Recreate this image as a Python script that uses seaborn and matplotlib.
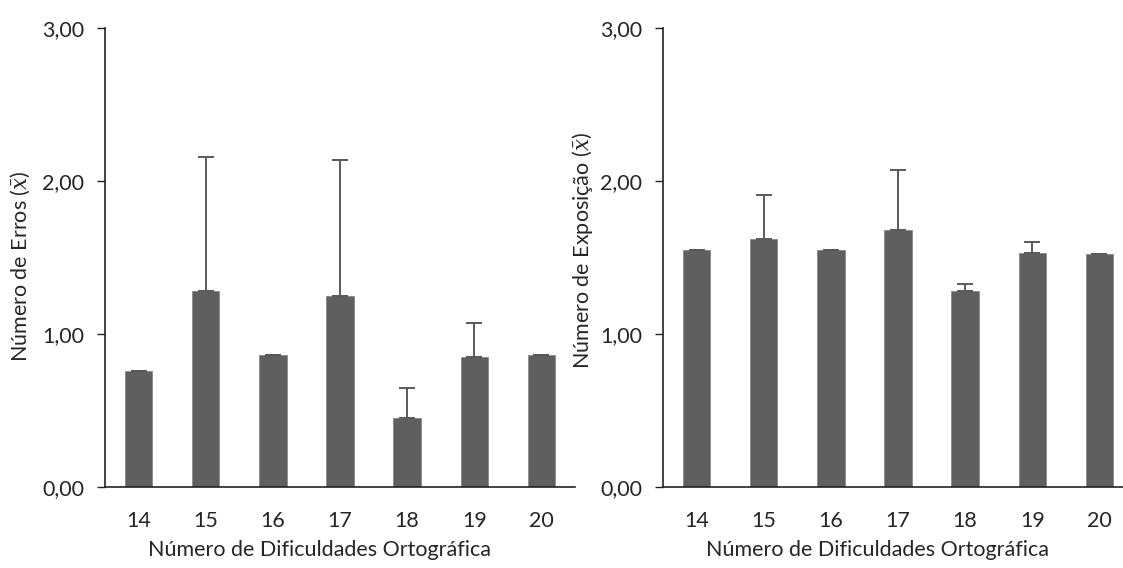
import numpy as np
import matplotlib
matplotlib.use('Agg')
import matplotlib.pyplot as plt
import seaborn as sns

# dados
dificuldades = ['14', '15', '16', '17', '18', '19', '20']
media_erros = [0.76, 1.28, 0.86, 1.25, 0.45, 0.85, 0.86]
erro_erros = [0.0, 0.88, 0.0, 0.89, 0.20, 0.22, 0.0]
media_exposicao = [1.55, 1.62, 1.55, 1.68, 1.28, 1.53, 1.52]
erro_exposicao = [0.0, 0.29, 0.0, 0.39, 0.05, 0.07, 0.0]

rotulo_x = 'Número de Dificuldades Ortográfica'
rotulos_y = [r'Número de Erros ($\bar{x}$)', r'Número de Exposição ($\bar{x}$)']
ticks_y = [0, 1, 2, 3]
ticks_y_txt = ['0,00', '1,00', '2,00', '3,00']

sns.set_style('ticks')
plt.rcParams['font.family'] = ['Lato', 'DejaVu Sans']
plt.rcParams['mathtext.fontset'] = 'dejavuserif'

fig = plt.figure(figsize=(11.23, 5.68), dpi=100)
ax1 = fig.add_axes([105 / 1123, 1 - 487 / 568, 470 / 1123, 459 / 568])
ax2 = fig.add_axes([663 / 1123, 1 - 487 / 568, 470 / 1123, 459 / 568])

cor_barra = '#5f5f5f'
cor_erro = '#5a5a5a'
tam = 15.5

paineis = [(ax1, media_erros, erro_erros, rotulos_y[0], (-0.155, 0.48)),
           (ax2, media_exposicao, erro_exposicao, rotulos_y[1], (-0.145, 0.515))]

for ax, medias, erros, rot_y, pos_y in paineis:
    sns.barplot(x=dificuldades, y=medias, color=cor_barra, width=0.41,
                errorbar=None, edgecolor='#8a8a8a', linewidth=0.6,
                saturation=1, ax=ax)
    # barra de erro só para cima
    ax.errorbar(x=np.arange(len(dificuldades)), y=medias,
                yerr=[np.zeros(len(erros)), erros], fmt='none',
                ecolor=cor_erro, elinewidth=1.4, capsize=5.5, capthick=1.4)
    ax.set_xlim(-0.5, 6.5)
    ax.set_ylim(0, 3)
    ax.set_yticks(ticks_y)
    ax.set_yticklabels(ticks_y_txt)
    ax.tick_params(axis='y', length=6, width=1, pad=9, labelsize=tam, color='#222222')
    ax.tick_params(axis='x', length=0, pad=17, labelsize=tam)
    ax.set_xlabel(rotulo_x, fontsize=tam)
    ax.set_ylabel(rot_y, fontsize=tam)
    ax.xaxis.set_label_coords(0.457, -0.115)
    ax.yaxis.set_label_coords(*pos_y)
    for s in ['left', 'bottom']:
        ax.spines[s].set_linewidth(1.2)
        ax.spines[s].set_color('#222222')
    sns.despine(ax=ax)

fig.savefig('out.png', dpi=100)
